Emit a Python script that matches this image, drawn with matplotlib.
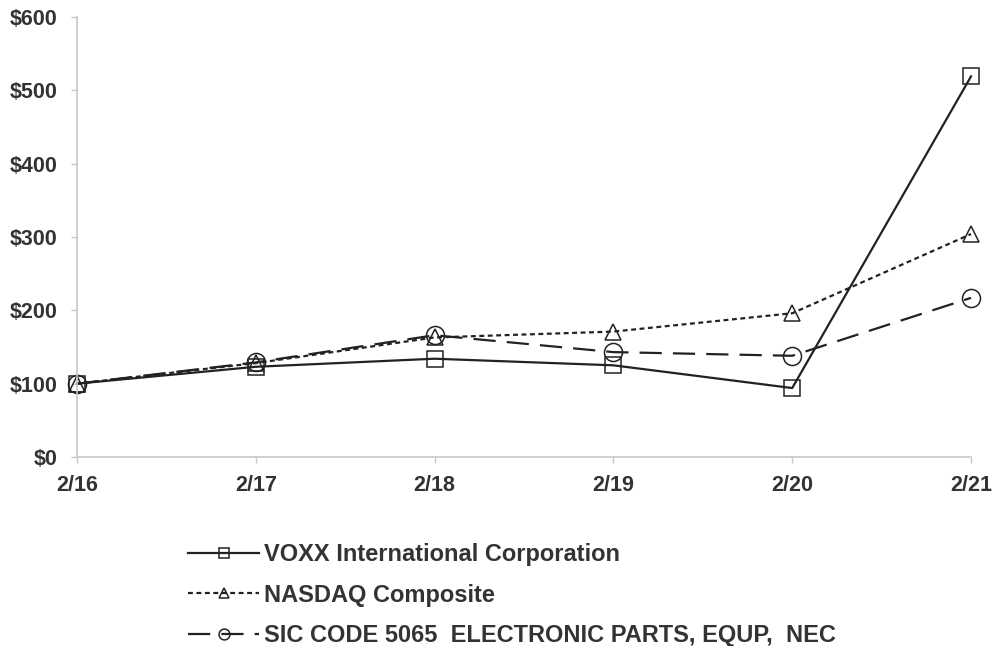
import matplotlib.pyplot as plt

plt.rcParams['font.family'] = ['Liberation Sans', 'DejaVu Sans']
plt.rcParams['font.weight'] = 'bold'

years = ['2/16', '2/17', '2/18', '2/19', '2/20', '2/21']
voxx = [100, 123, 134, 125, 94, 519]
nasdaq = [100, 128, 163, 171, 196, 304]
sic = [100, 129, 166, 143, 138, 217]
y_ticks = [0, 100, 200, 300, 400, 500, 600]

x = list(range(len(years)))

fig = plt.figure(figsize=(9.95, 6.46), dpi=100)
ax = fig.add_axes([0.0774, 0.2926, 0.8985, 0.6811])

ink = '#222222'
ax.plot(x, voxx, color=ink, linestyle='-', linewidth=1.6, marker='s', markersize=12,
        markerfacecolor='none', markeredgecolor=ink, markeredgewidth=1.1,
        label='VOXX International Corporation')
ax.plot(x, nasdaq, color=ink, linestyle=(0, (2.2, 1.6)), linewidth=1.6, marker='^', markersize=12,
        markerfacecolor='none', markeredgecolor=ink, markeredgewidth=1.1,
        label='NASDAQ Composite')
ax.plot(x, sic, color=ink, linestyle=(0, (10, 5)), linewidth=1.6, marker='o', markersize=13,
        markerfacecolor='none', markeredgecolor=ink, markeredgewidth=1.1,
        label='SIC CODE 5065  ELECTRONIC PARTS, EQUP,  NEC')

ax.set_xlim(0, len(years) - 1)
ax.set_ylim(0, 600)
ax.set_xticks(x)
ax.set_xticklabels(years)
ax.set_yticks(y_ticks)
ax.set_yticklabels([f'${v}' for v in y_ticks])

for side in ['top', 'right']:
    ax.spines[side].set_visible(False)
for side in ['left', 'bottom']:
    ax.spines[side].set_color('#c8c8c8')
    ax.spines[side].set_linewidth(1.2)
ax.tick_params(axis='both', colors='#c8c8c8', length=4, width=1)
ax.tick_params(axis='both', labelcolor='#333333', labelsize=15.5)
ax.tick_params(axis='x', pad=9)
ax.tick_params(axis='y', pad=10)
for line in ax.lines:
    line.set_clip_on(False)

fig.legend(loc='upper left', bbox_to_anchor=(0.168, 0.192), frameon=False,
           prop={'size': 17, 'weight': 'bold'}, labelcolor='#333333',
           handlelength=3.0, handletextpad=0.2, labelspacing=0.74, markerscale=0.6)

fig.savefig('out.png', dpi=100)
